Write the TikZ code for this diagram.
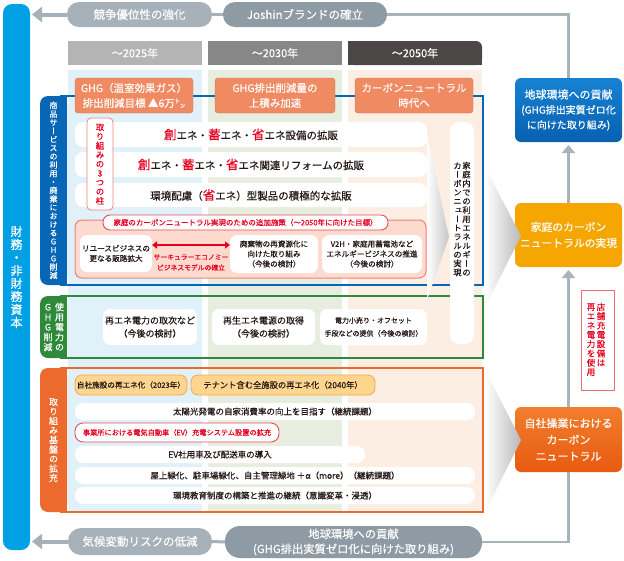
\documentclass[tikz,border=0pt]{standalone}
\usepackage{fontspec}
\setmainfont{Noto Sans CJK JP}[FakeBold=0.35]
\newfontfamily\jpv[RawFeature=+vert,FakeBold=0.35]{Noto Sans CJK JP}
\usetikzlibrary{arrows.meta}
\definecolor{barblue}{HTML}{00A0E4}
\definecolor{pillA}{HTML}{A6B1B9}
\definecolor{pillB}{HTML}{8E9BA4}
\definecolor{connGray}{HTML}{A9B3BA}
\definecolor{hdrA}{HTML}{B4B4B4}
\definecolor{hdrB}{HTML}{878787}
\definecolor{hdrC}{HTML}{4B4747}
\definecolor{bgA}{HTML}{E0F1FA}
\definecolor{bgB}{HTML}{E7EEE0}
\definecolor{bgC}{HTML}{FDEEE4}
\definecolor{hdrO}{HTML}{F08A62}
\definecolor{secBlue}{HTML}{0766B6}
\definecolor{secGreen}{HTML}{2E8A3A}
\definecolor{secOrange}{HTML}{EC6A2D}
\definecolor{pinkF}{HTML}{FCDACD}
\definecolor{pinkB}{HTML}{EE8080}
\definecolor{redB}{HTML}{E84A5A}
\definecolor{redT}{HTML}{E60020}
\definecolor{yelF}{HTML}{FDD58F}
\definecolor{yelB}{HTML}{F5A64A}
\definecolor{rbBlueT}{HTML}{1782D2}
\definecolor{rbBlueB}{HTML}{0860B0}
\definecolor{rbYel}{HTML}{F5A600}
\definecolor{rbOrT}{HTML}{F27E2E}
\definecolor{rbOrB}{HTML}{E85A10}
\definecolor{txt}{HTML}{231815}
\newdimen\vtskip
\makeatletter
\newcommand\vtext[2]{\vtskip=#1\relax\vbox{\offinterlineskip\vt@a#2\vt@end}}
\def\vt@a#1{\ifx#1\vt@end\expandafter\@gobble\else\expandafter\@firstofone\fi{\vt@char{#1}\vt@a}}
\def\vt@char#1{\hbox to 1.2em{\hss\vrule width0pt height .85\vtskip depth .15\vtskip #1\hss}}
\makeatother
\newcommand\mkbox[7]{\node[bx,#1,minimum width=#5pt-#3pt,minimum height=#6pt-#4pt] (#2) at ({(#3+#5)/2},{(#4+#6)/2}) {#7};}
\newcommand\Rd[1]{{\color{redT}\fontsize{12.5}{13}\selectfont #1}}
\tikzset{
  bx/.style={inner sep=0pt,outer sep=0pt,anchor=center,align=center,text=txt},
  pillL/.style={fill=pillA,rounded corners=12pt,text=white,font=\fontsize{11.5}{15}\selectfont},
  pillD/.style={fill=pillB,rounded corners=12pt,text=white,font=\fontsize{11.5}{15}\selectfont},
  conn/.style={draw=connGray,line width=2.5pt},
  bigarrow/.style={draw=pillA,line width=4pt,-{Triangle[length=10pt,width=15pt]}},
  varrow/.style={draw=connGray,line width=3.5pt,-{Triangle[length=8pt,width=13pt]},shorten >=3pt},
  colhdr/.style={text=white,font=\fontsize{11}{12}\selectfont},
  ohdr/.style={fill=hdrO,draw=hdrO!85!black,line width=0.3pt,rounded corners=3pt,text=white,font=\fontsize{10.5}{15}\selectfont},
  row/.style={fill=white,rounded corners=8pt,font=\fontsize{10.5}{12}\selectfont},
  orow/.style={fill=white,rounded corners=8pt,font=\fontsize{8.5}{10}\selectfont},
  inbox/.style={fill=white,rounded corners=7pt,font=\fontsize{7.6}{10}\selectfont},
  gbox/.style={fill=white,rounded corners=7pt,font=\fontsize{9}{13}\selectfont},
  vl/.style={inner sep=0pt,text=white},
  ypill/.style={fill=yelF,draw=yelB,line width=0.8pt,rounded corners=7pt},
  rpill/.style={fill=white,draw=redB,line width=0.9pt,rounded corners=8pt,text=redT},
  wedge/.style={left color=white,right color=gray!55},
}
\begin{document}
\begin{tikzpicture}[x=1pt,y=-1pt]
\useasboundingbox (0,0) rectangle (624,560);
% left bar
\mkbox{fill=barblue,rounded corners=9pt,text=white,font=\jpv\fontsize{12}{13}\selectfont}{bar}{3}{4}{30}{550}{\vtext{13pt}{財務・非財務資本}}
% top pills
\mkbox{pillL}{p1}{67}{2}{212}{27}{競争優位性の強化}
\mkbox{pillD}{p2}{223}{2}{387}{27}{Joshinブランドの確立}
\coordinate (tipT) at (32,14.5);
\draw[bigarrow] (p1.west) -- (tipT);
\draw[draw=pillA,line width=3pt] (p1.east) -- (p2.west);
% column headers
\mkbox{fill=hdrA,colhdr}{c1}{68}{41}{202}{65}{〜2025年}
\mkbox{fill=hdrB,colhdr}{c2}{208}{41}{342}{65}{〜2030年}
\fill[hdrC,rounded corners=6pt] (348,41) rectangle (482,65);
\fill[hdrC] (348,41) rectangle (470,65);
\fill[hdrC] (348,52) rectangle (482,65);
\mkbox{colhdr}{c3}{348}{41}{482}{65}{〜2050年}
% column backgrounds
\fill[bgA] (68,70) rectangle (202,512);
\fill[bgB] (208,70) rectangle (342,512);
\fill[bgC] (348,70) rectangle (482,512);
% sections
\fill[secBlue,rounded corners=8pt] (40,96) rectangle (67,285);
\fill[secBlue] (56,96) rectangle (67,285);
\draw[secBlue,line width=1.6pt] (60,96) -- (483,96) -- (483,285) -- (60,285);
\node[vl,font=\jpv\fontsize{8}{8.5}\selectfont] (tA) at (53.5,190.5) {\vtext{8.5pt}{商品サービスの利用・廃棄におけるGHG削減}};
\fill[secGreen,rounded corners=8pt] (40,296) rectangle (67,358);
\fill[secGreen] (56,296) rectangle (67,358);
\draw[secGreen,line width=1.6pt] (60,296) -- (483,296) -- (483,358) -- (60,358);
\node[vl,font=\jpv\fontsize{9}{10}\selectfont] (tB1) at (59.5,327) {\vtext{10pt}{使用電力の}};
\node[vl,font=\jpv\fontsize{9}{10}\selectfont] (tB2) at (48,327) {\vtext{10pt}{GHG削減}};
\fill[secOrange,rounded corners=8pt] (40,368) rectangle (67,512);
\fill[secOrange] (56,368) rectangle (67,512);
\draw[secOrange,line width=1.6pt] (60,368) -- (483,368) -- (483,512) -- (60,512);
\node[vl,font=\jpv\fontsize{9}{10}\selectfont] (tC) at (53.5,440) {\vtext{9.5pt}{取り組み基盤の拡充}};
% orange headers
\mkbox{ohdr}{o1}{75}{78}{193}{113}{GHG（温室効果ガス）\\排出削減目標 ▲6万㌧}
\mkbox{ohdr}{o2}{215}{78}{335}{113}{GHG排出削減量の\\上積み加速}
\mkbox{ohdr}{o3}{355}{78}{473}{113}{カーボンニュートラル\\時代へ}
% blue section rows
\mkbox{row}{r1}{75}{122}{427}{147}{\Rd{創}エネ・\Rd{蓄}エネ・\Rd{省}エネ設備の拡販}
\mkbox{row}{r2}{75}{152}{427}{177}{\Rd{創}エネ・\Rd{蓄}エネ・\Rd{省}エネ関連リフォームの拡販}
\mkbox{row}{r3}{75}{183}{427}{207}{環境配慮（\Rd{省}エネ）型製品の積極的な拡販}
\mkbox{fill=white,draw=pinkB,line width=0.8pt,rounded corners=4pt,text=redT,font=\jpv\fontsize{8.5}{9}\selectfont}{pillar}{87}{118}{113}{210}{\vtext{9.2pt}{取り組みの3つの柱}}
% pink box
\mkbox{fill=pinkF,draw=pinkB,line width=1pt,rounded corners=7pt}{pinkbox}{75}{220}{426}{278}{}
\mkbox{rpill,rounded corners=7pt,font=\fontsize{7.5}{8}\selectfont}{pinkhdr}{103}{215}{388}{230}{家庭のカーボンニュートラル実現のための追加施策（〜2050年に向けた目標）}
\mkbox{inbox}{b1}{80}{235}{152}{272}{リユースビジネスの\\更なる販路拡大}
\mkbox{inbox}{b2}{230}{235}{318}{273}{廃棄物の再資源化に\\向けた取り組み\\（今後の検討）}
\mkbox{inbox}{b3}{322}{235}{422}{273}{V2H・家庭用蓄電池など\\エネルギービジネスの推進\\（今後の検討）}
\draw[redT,line width=1.2pt,{Triangle[length=5pt,width=7pt]}-{Triangle[length=5pt,width=7pt]}] ([yshift=8.5pt]b1.east) -- ([yshift=9pt]b2.west);
\node[text=redT,font=\fontsize{6.8}{10.5}\selectfont,align=center,inner sep=0pt] (circ) at (191,262.5) {サーキュラーエコノミー\\ビジネスモデルの確立};
% inner wedge and vertical box
\shade[left color=white,right color=gray!45] (427,135) -- (449,237) -- (427,300) -- cycle;
\mkbox{fill=white,rounded corners=9pt}{vbox}{450}{122}{474}{344}{}
\node[anchor=north,inner sep=0pt,text=txt,font=\jpv\fontsize{8.3}{9}\selectfont] (vbR) at (466.5,161) {\vtext{8.9pt}{家庭内での利用エネルギーの}};
\node[anchor=north,inner sep=0pt,text=txt,font=\jpv\fontsize{8.3}{9}\selectfont] (vbL) at (457.5,161) {\vtext{8.9pt}{カーボンニュートラルの実現}};
% green boxes
\mkbox{gbox}{g1}{103}{309}{197}{345}{再エネ電力の取次など\\（今後の検討）}
\mkbox{gbox}{g2}{212}{309}{315}{345}{再生エネ電源の取得\\（今後の検討）}
\mkbox{gbox,font=\fontsize{7}{13}\selectfont}{g3}{320}{309}{427}{345}{電力小売り・オフセット\\手段などの提供（今後の検討）}
% orange section rows
\mkbox{ypill,font=\fontsize{7.6}{9}\selectfont}{y1}{75}{375}{187}{395}{自社施設の再エネ化（2023年）}
\mkbox{ypill,font=\fontsize{8.3}{9}\selectfont}{y2}{191}{375}{375}{395}{テナント含む全施設の再エネ化（2040年）}
\mkbox{orow}{w1}{75}{403}{475}{420}{太陽光発電の自家消費率の向上を目指す（継続課題）}
\mkbox{rpill,font=\fontsize{7.2}{9}\selectfont}{ev}{75}{423}{279}{442}{事業所における電気自動車（EV）充電システム設置の拡充}
\mkbox{orow}{w2}{75}{446}{365}{463}{EV社用車及び配送車の導入}
\mkbox{orow}{w3}{75}{467}{475}{484}{屋上緑化、駐車場緑化、自主管理緑地 ＋α（more）（継続課題）}
\mkbox{orow}{w4}{75}{487}{475}{504}{環境教育制度の構築と推進の継続（意識変革・浸透）}
% right boxes
\mkbox{top color=rbBlueT,bottom color=rbBlueB,rounded corners=6pt,text=white,font=\fontsize{10}{15}\selectfont}{rb1}{515}{78}{622}{142}{{\fontsize{11}{15}\selectfont 地球環境への貢献}\\(GHG排出実質ゼロ化\\に向けた取り組み)}
\mkbox{fill=rbYel,rounded corners=6pt,text=white,font=\fontsize{10.8}{16}\selectfont}{rb2}{515}{203}{622}{267}{家庭のカーボン\\ニュートラルの実現}
\mkbox{top color=rbOrT,bottom color=rbOrB,rounded corners=6pt,text=white,font=\fontsize{11}{16.5}\selectfont}{rb3}{515}{407}{622}{472}{自社操業における\\カーボン\\ニュートラル}
\shade[wedge] (485,167) -- (521,236) -- (485,307) -- cycle;
\shade[wedge] (485,370) -- (521,440) -- (485,512) -- cycle;
\draw[varrow] (rb2.north) -- (rb1.south);
\draw[varrow] (rb3.north) -- (rb2.south);
\mkbox{fill=white,draw=redB!80,line width=0.7pt}{note}{581}{290}{614}{390}{}
\node[anchor=north,inner sep=0pt,text=redT,font=\jpv\fontsize{8.5}{9}\selectfont] (noteR) at (601,302) {\vtext{9.3pt}{店舗充電設備は}};
\node[anchor=north,inner sep=0pt,text=redT,font=\jpv\fontsize{8.5}{9}\selectfont] (noteL) at (591,302) {\vtext{9.3pt}{再エネ電力を使用}};
% top connector to rb1
\draw[conn] (p2.east) -- (p2.east -| rb1.north) -- (rb1.north);
% bottom pills
\mkbox{pillL,rounded corners=13pt}{q1}{68}{528}{212}{555}{気候変動リスクの低減}
\mkbox{pillD,rounded corners=15pt,font=\fontsize{11.3}{15}\selectfont}{q2}{225}{526}{482}{558}{地球環境への貢献\\(GHG排出実質ゼロ化に向けた取り組み)}
\coordinate (tipB) at (32,541.5);
\draw[bigarrow] (q1.west) -- (tipB);
\draw[draw=pillA,line width=3pt] (q1.east) -- (q2.west);
\draw[conn] (q2.east) -- (q2.east -| rb3.south) -- (rb3.south);
\end{tikzpicture}
\end{document}
